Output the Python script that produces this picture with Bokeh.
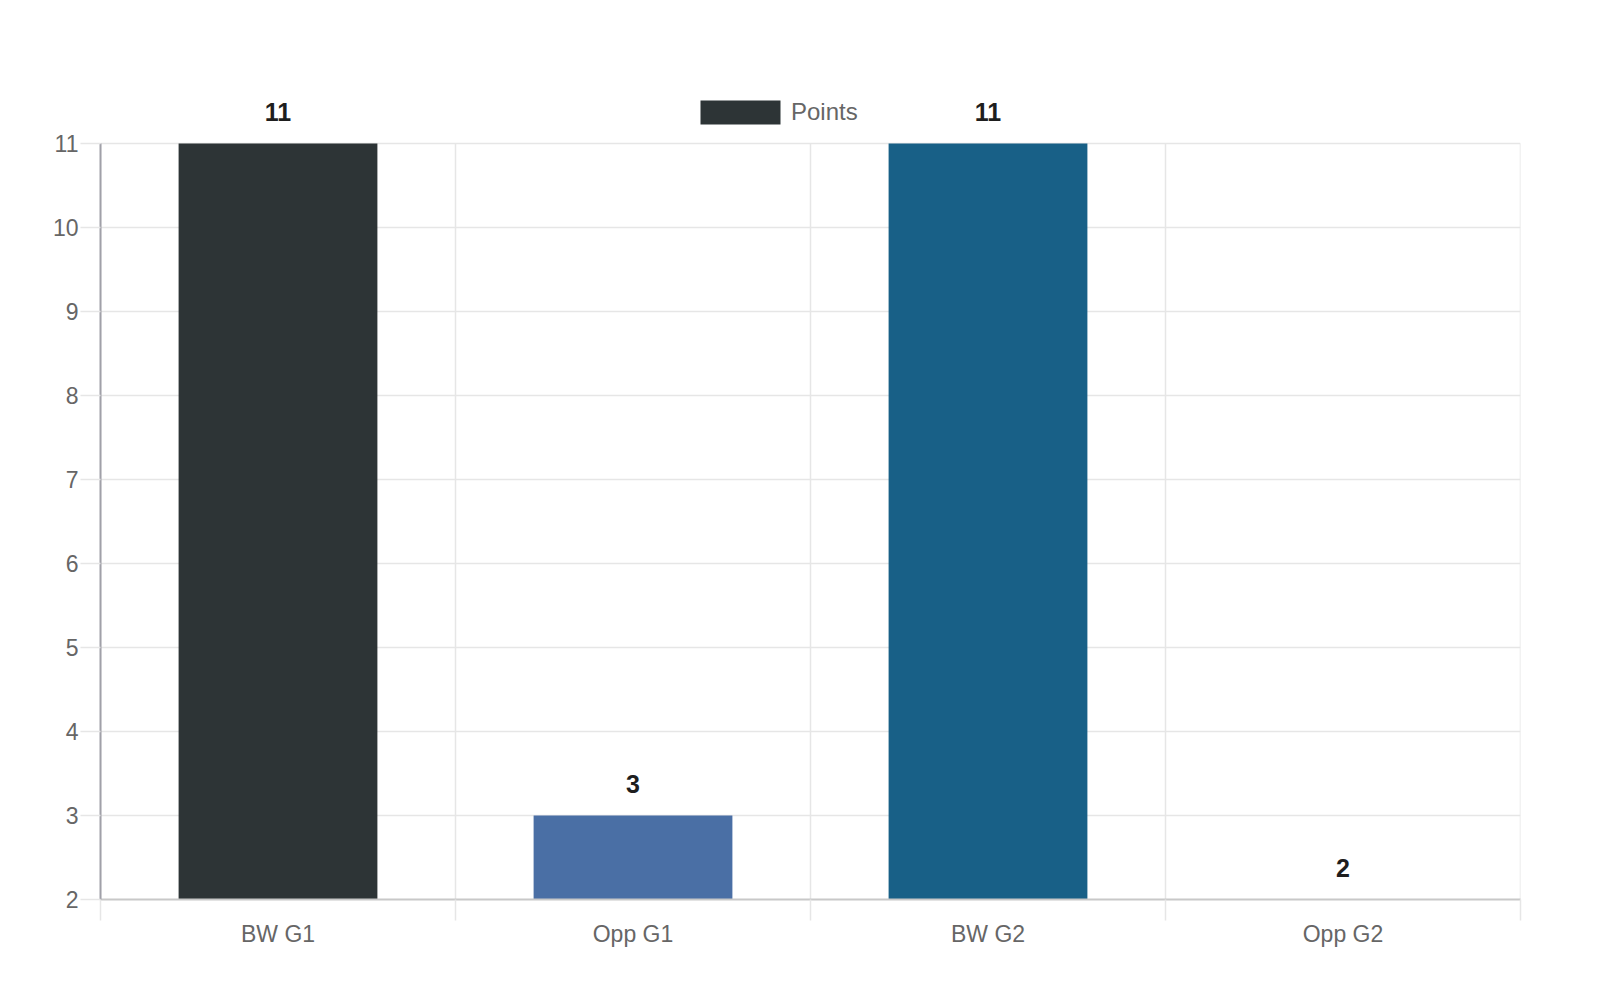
from bokeh.plotting import figure
from bokeh.models import (ColumnDataSource, FixedTicker, Range1d, LabelSet,
                          Legend, LegendItem)
from bokeh.core.properties import value
from bokeh.embed import file_html
from bokeh.resources import INLINE

categories = ["BW G1", "Opp G1", "BW G2", "Opp G2"]
points = [11, 3, 11, 2]
colors = ["#2d3436", "#4a6fa5", "#186087", "#6c7a89"]
y_min = 2
y_max = 11

n = len(categories)
xs = [i + 0.5 for i in range(n)]
bounds_x = list(range(n + 1))
src = ColumnDataSource(dict(x=xs, top=points, bottom=[y_min] * n,
                            color=colors, label=[str(v) for v in points]))

FONT = "Liberation Sans"
GRID = "#e6e6e6"

# frame extends one unit above y_max to leave room for the legend and value labels
p = figure(frame_width=1420, frame_height=840,
           x_range=Range1d(0, n), y_range=Range1d(y_min, y_max + 1),
           output_backend="svg", toolbar_location=None,
           min_border_left=100, min_border_top=59, min_border_right=70,
           min_border_bottom=60)
p.outline_line_color = None
p.background_fill_color = "white"
p.border_fill_color = "white"

# vertical grid lines at category boundaries, limited to the value range
p.segment(x0=bounds_x, x1=bounds_x, y0=[y_min] * (n + 1), y1=[y_max] * (n + 1),
          line_color=GRID, line_width=1.5)

r = p.vbar(x="x", top="top", bottom="bottom", width=0.56, fill_color="color",
           line_color=None, source=src)

# x axis: labels at centres, tick marks at category boundaries
p.xaxis.ticker = FixedTicker(ticks=xs, minor_ticks=bounds_x)
p.xaxis.major_label_overrides = {x: c for x, c in zip(xs, categories)}
p.xaxis.major_tick_out = 0
p.xaxis.major_tick_in = 0
p.xaxis.minor_tick_out = 21
p.xaxis.minor_tick_in = 0
p.xaxis.minor_tick_line_color = GRID
p.xaxis.minor_tick_line_width = 1.5
p.xaxis.axis_line_color = "#c8c8c8"
p.xaxis.axis_line_width = 2
p.xaxis.major_label_standoff = 0
p.xaxis.major_label_text_font = FONT
p.xaxis.major_label_text_font_size = "23px"
p.xaxis.major_label_text_color = "#666666"
p.xgrid.grid_line_color = None

# y axis
p.yaxis.ticker = FixedTicker(ticks=list(range(y_min, y_max + 1)))
p.yaxis.bounds = (y_min, y_max)
p.yaxis.minor_tick_line_color = None
p.yaxis.major_tick_out = 20
p.yaxis.major_tick_in = 0
p.yaxis.major_tick_line_color = GRID
p.yaxis.major_tick_line_width = 1.5
p.yaxis.axis_line_color = "#a0a0a8"
p.yaxis.axis_line_width = 2
p.yaxis.major_label_standoff = 2
p.yaxis.major_label_text_font = FONT
p.yaxis.major_label_text_font_size = "23px"
p.yaxis.major_label_text_color = "#666666"
p.ygrid.grid_line_color = GRID
p.ygrid.grid_line_width = 1.5

labels = LabelSet(x="x", y="top", text="label", source=src, x_offset=0, y_offset=23,
                  text_align="center", text_baseline="alphabetic",
                  text_font=value(FONT), text_font_size="25px",
                  text_font_style="bold", text_color="#1e1e1e", level="overlay")
p.add_layout(labels)

legend = Legend(items=[LegendItem(label="Points", renderers=[r], index=0)],
                location=(590, 772), orientation="horizontal",
                glyph_width=100, glyph_height=30, label_height=30,
                label_standoff=1, padding=0, margin=0, spacing=0,
                label_text_font=FONT, label_text_font_size="24px",
                label_text_color="#666666", label_text_baseline="middle",
                border_line_color=None, background_fill_alpha=0)
p.add_layout(legend, "center")

open("out.html", "w").write(file_html(p, INLINE))
